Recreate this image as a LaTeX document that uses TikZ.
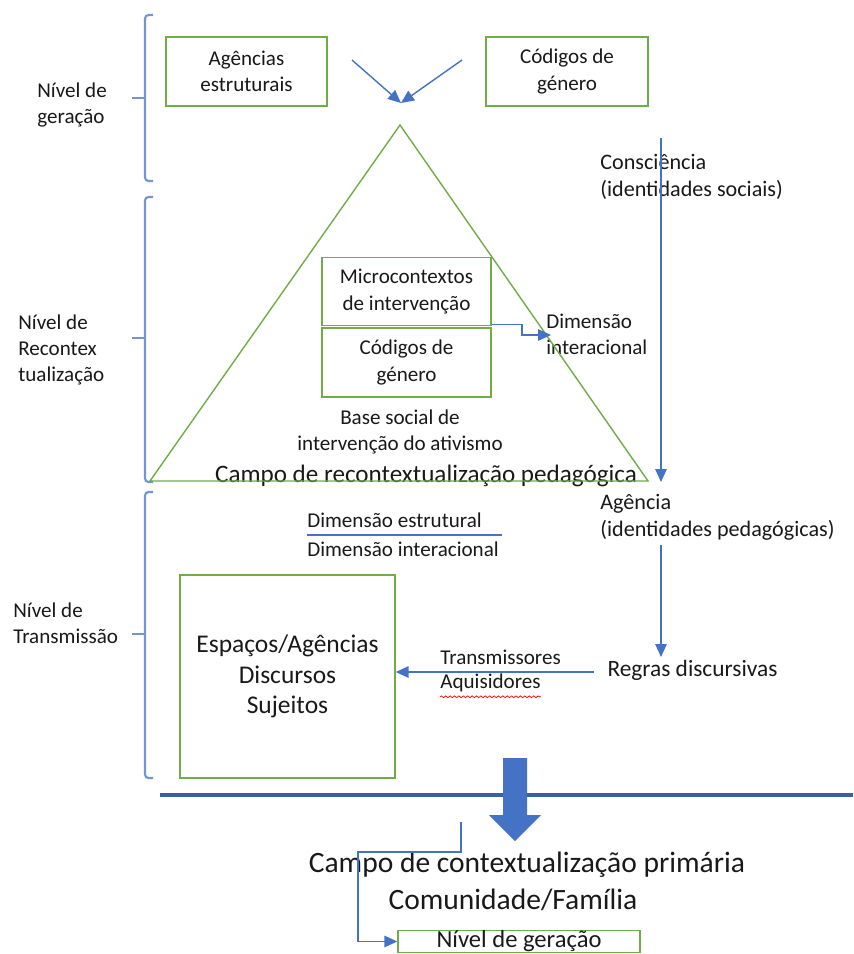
\documentclass[tikz,border=0pt]{standalone}
\usepackage{fontspec}
\setmainfont{Carlito}
\usetikzlibrary{arrows.meta}
\usetikzlibrary{decorations.pathmorphing}
\definecolor{wblue}{RGB}{68,114,196}
\definecolor{wgreen}{RGB}{112,173,71}
\definecolor{wtext}{RGB}{25,25,25}
\tikzset{
  txt/.style={text=wtext, inner sep=0pt, font=\fontsize{12}{15}\selectfont},
  gbox/.style={draw=wgreen, line width=0.8pt, inner sep=0pt, align=center},
  barrow/.style={draw=wblue, line width=0.8pt, -{Triangle[length=2.6mm,width=2.3mm]}},
  brace/.style={draw=wblue!75, line width=1.2pt, rounded corners=2pt},
}
\begin{document}
\begin{tikzpicture}[x=0.02cm, y=-0.02cm]
\useasboundingbox (0,0) rectangle (853,954);

\draw[brace] (153,15) -| (145,181) -- (153,181);
\draw[brace] (145,98) -- (132,98);
\draw[brace] (153,197) -| (145,482) -- (153,482);
\draw[brace] (145,338) -- (132,338);
\draw[brace] (153,492) -| (145,778) -- (153,778);
\draw[brace] (145,634) -- (132,634);

\node[txt, align=left, anchor=west] (lvgen) at (37,105) {Nível de\\geração};
\node[txt, align=left, anchor=west] (lvrec) at (18,350) {Nível de\\Recontex\\tualização};
\node[txt, align=left, anchor=west] (lvtra) at (13,623) {Nível de\\Transmissão};

\node[gbox, txt, minimum width=3.22cm, minimum height=1.38cm] (agest) at (246.5,71.5) {Agências\\estruturais};
\node[gbox, txt, minimum width=3.24cm, minimum height=1.38cm] (cgtop) at (567,71.5) {Códigos de\\género};
\node[gbox, txt, minimum width=3.38cm, minimum height=1.36cm] (micro) at (406.5,291.5) {Microcontextos\\de intervenção};
\node[gbox, txt, minimum width=3.38cm, minimum height=1.38cm] (cgin) at (406.5,362.5) {Códigos de\\género};
\node[gbox, txt, minimum width=4.3cm, minimum height=4.06cm, font=\fontsize{14.5}{17.5}\selectfont] (esp) at (287.5,676.5) {Espaços/Agências\\Discursos\\Sujeitos};
\node[gbox, txt, minimum width=4.84cm, minimum height=0.44cm, text height=9pt, text depth=2.5pt, font=\fontsize{14}{17}\selectfont] (ngen) at (519,941.5) {Nível de geração};

\node[txt, align=center] (base) at (400,432) {Base social de\\intervenção do ativismo};
\node[txt, font=\fontsize{14.3}{17}\selectfont, anchor=base] (camporec) at (426,482) {Campo de recontextualização pedagógica};
\node[txt, align=left, anchor=west] (dimint) at (546,334) {Dimensão\\interacional};
\node[txt, font=\fontsize{12.6}{15.5}\selectfont, align=left, anchor=west] (consc) at (600,177) {Consciência\\(identidades sociais)};
\node[txt, font=\fontsize{12.6}{15.5}\selectfont, align=left, anchor=west] (agenc) at (600,517) {Agência\\(identidades pedagógicas)};
\node[txt, font=\fontsize{13.3}{16}\selectfont] (regras) at (692.5,670) {Regras discursivas};
\node[txt, anchor=west] (dimest) at (307,520) {Dimensão estrutural};
\node[txt, anchor=west] (diminter) at (307,549) {Dimensão interacional};
\node[txt, anchor=west] (transm) at (440,657) {Transmissores};
\node[txt, anchor=west] (aquis) at (440,683) {Aquisidores};
\node[txt, font=\fontsize{16.8}{20}\selectfont] (campoprim) at (527,865) {Campo de contextualização primária};
\node[txt, font=\fontsize{16.8}{20}\selectfont] (comfam) at (513,900) {Comunidade/Família};

\coordinate (apex) at (400,125);
\coordinate (tbl) at (150,481);
\coordinate (tbr) at (648,481);
\draw[wgreen, line width=0.8pt] (apex) -- (tbr) -- (tbl) -- cycle;

\coordinate (agtail) at (352,60);
\coordinate (cgtail) at (462,60);
\coordinate (meet) at (401,103);
\draw[barrow] (agtail) -- (meet);
\draw[barrow] (cgtail) -- (meet);

\coordinate (cstop) at (661,138);
\coordinate (csbot) at (661,482);
\draw[barrow] (cstop) -- (csbot);
\coordinate (agtop) at (661,545);
\coordinate (agbot) at (661,657);
\draw[barrow] (agtop) -- (agbot);

\coordinate (dimtip) at (551,335);
\draw[barrow] ([yshift=0.04cm]micro.south east) -| (522,335) -- (dimtip);
\coordinate (rgtail) at (594,672);
\draw[barrow] (rgtail) -- (rgtail -| esp.east);

\draw[wblue, line width=0.8pt] (307,535) -- (502,535);
\draw[red, line width=0.4pt, decorate, decoration={snake, amplitude=0.5pt, segment length=2.5pt}]
  ([yshift=-2.5pt]aquis.south west) -- ([yshift=-2.5pt]aquis.south east);

\draw[wblue!85!black, line width=2.2pt] (160,795) -- (853,795);
\fill[wblue] (503,758) -- (527,758) -- (527,815) -- (541,815) -- (515,841) -- (489,815) -- (503,815) -- cycle;

\coordinate (elbtop) at (461,822);
\draw[barrow] (elbtop) |- (358,852) |- (ngen.west);
\end{tikzpicture}
\end{document}
